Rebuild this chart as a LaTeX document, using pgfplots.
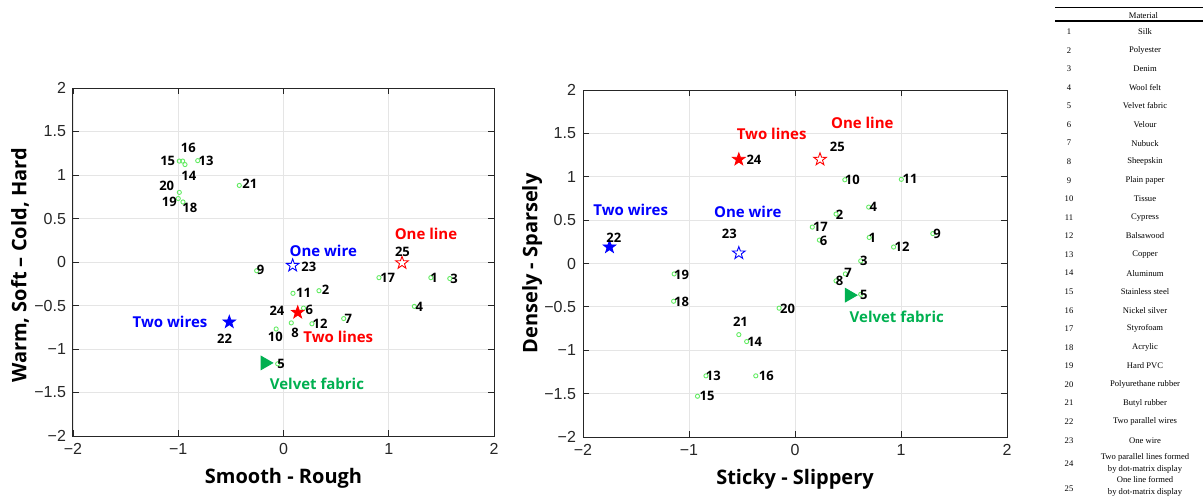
\documentclass[border=0pt]{standalone}
\usepackage{fontspec}
\setmainfont{Liberation Sans}
\newfontfamily\lab{Open Sans}
\newfontfamily\tabfont{Liberation Serif}
\usepackage{pgfplots}
\pgfplotsset{compat=1.18}
\definecolor{ptgreen}{RGB}{100,235,100}
\definecolor{txtgreen}{RGB}{0,176,80}
\definecolor{axcol}{RGB}{38,38,38}
\pgfdeclareplotmark{pstar}{%
  \pgfpathmoveto{\pgfpointpolar{90}{\pgfplotmarksize}}%
  \pgfpathlineto{\pgfpointpolar{126}{0.4\pgfplotmarksize}}%
  \pgfpathlineto{\pgfpointpolar{162}{\pgfplotmarksize}}%
  \pgfpathlineto{\pgfpointpolar{198}{0.4\pgfplotmarksize}}%
  \pgfpathlineto{\pgfpointpolar{234}{\pgfplotmarksize}}%
  \pgfpathlineto{\pgfpointpolar{270}{0.4\pgfplotmarksize}}%
  \pgfpathlineto{\pgfpointpolar{306}{\pgfplotmarksize}}%
  \pgfpathlineto{\pgfpointpolar{342}{0.4\pgfplotmarksize}}%
  \pgfpathlineto{\pgfpointpolar{18}{\pgfplotmarksize}}%
  \pgfpathlineto{\pgfpointpolar{54}{0.4\pgfplotmarksize}}%
  \pgfpathclose
  \pgfusepathqfillstroke}
\newcommand\numfont{\lab\bfseries\fontsize{6.5}{7}\selectfont}
\newcommand\annfont{\lab\bfseries\fontsize{7.5}{8}\selectfont}
\pgfplotsset{
  myax/.style={
    scale only axis, anchor=south west,
    xmin=-2, xmax=2, ymin=-2, ymax=2,
    xtick={-2,-1,0,1,2}, ytick={-2,-1.5,-1,-0.5,0,0.5,1,1.5,2},
    xticklabels={−2,−1,0,1,2},
    yticklabels={−2,−1.5,−1,−0.5,0,0.5,1,1.5,2},
    grid=major, major grid style={black!10, line width=0.4pt},
    axis line style={axcol, line width=0.5pt},
    tick style={axcol, line width=0.4pt}, major tick length=3pt,
    tick label style={font=\fontsize{8}{9}\selectfont, text=axcol},
    label style={font=\lab\bfseries\fontsize{10}{12}\selectfont, text=black},
    clip=false,
  },
  circ/.style={only marks, mark=o, mark size=1.05pt, mark options={draw=ptgreen, line width=0.45pt}},
  lbl/.style={draw=none, mark=none, nodes near coords, point meta=explicit symbolic,
    nodes near coords style={anchor=center, inner sep=0pt, font=#1}},
  sfill/.style={only marks, mark=pstar, mark size=3.3pt, mark options={draw=#1, fill=#1, line width=0.4pt}},
  sopen/.style={only marks, mark=pstar, mark size=3.3pt, mark options={draw=#1, fill=white, line width=0.45pt}},
  tri/.style={only marks, mark=triangle*, mark size=3.9pt, mark options={draw=txtgreen, fill=txtgreen, rotate=-90}},
}
\begin{document}
\begin{tikzpicture}
\path[use as bounding box] (0,0) rectangle (601.5pt,249.5pt);
% ---------------- left axis
\begin{axis}[myax, at={(36.5pt,31.5pt)}, width=210.5pt, height=174pt,
  xlabel={Smooth - Rough}, ylabel={Warm, Soft – Cold, Hard},
  ylabel style={at={(axis description cs:-0.126,0.49)}, anchor=center, rotate=0}]
\addplot[circ] coordinates {
 (1.40,-0.18) (0.337,-0.33) (1.58,-0.19) (1.243,-0.51) (-0.055,-1.17)
 (0.19,-0.53) (0.572,-0.65) (0.074,-0.70) (-0.255,-0.10) (-0.07,-0.77)
 (0.09,-0.36) (0.27,-0.71) (-0.815,1.165) (-0.936,1.12) (-0.99,1.16)
 (-0.958,1.16) (0.907,-0.18) (-0.955,0.69) (-1.0,0.73) (-0.99,0.80)
 (-0.42,0.88)};
\addplot[sfill=blue] coordinates {(-0.515,-0.69)};
\addplot[sopen=blue] coordinates {(0.087,-0.04)};
\addplot[sfill=red] coordinates {(0.135,-0.58)};
\addplot[sopen=red] coordinates {(1.126,-0.01)};
\addplot[tri] coordinates {(-0.176,-1.16)};
\addplot[lbl=\numfont] coordinates {
 (-0.905,1.31)[16] (-1.10,1.16)[15] (-0.736,1.16)[13] (-0.90,0.99)[14]
 (-1.11,0.87)[20] (-1.085,0.69)[19] (-0.89,0.62)[18] (-0.32,0.90)[21]
 (-0.217,-0.095)[9] (0.24,-0.06)[23] (1.13,0.12)[25] (0.99,-0.18)[17]
 (1.43,-0.18)[1] (1.62,-0.19)[3] (0.19,-0.36)[11] (0.40,-0.32)[2]
 (1.29,-0.51)[4] (-0.062,-0.56)[24] (0.245,-0.55)[6] (0.616,-0.65)[7]
 (0.347,-0.71)[12] (0.11,-0.82)[8] (-0.078,-0.86)[10] (-0.024,-1.17)[5]
 (-0.56,-0.88)[22]};
\addplot[lbl={\annfont\color{blue}}] coordinates {(0.378,0.13)[One wire] (-1.078,-0.693)[Two wires]};
\addplot[lbl={\annfont\color{red}}] coordinates {(1.354,0.318)[One line] (0.521,-0.858)[Two lines]};
\addplot[lbl={\annfont\color{txtgreen}}] coordinates {(0.318,-1.406)[Velvet fabric]};
\end{axis}
% ---------------- right axis
\begin{axis}[myax, at={(291.5pt,31pt)}, width=212pt, height=173.5pt,
  xlabel={Sticky - Slippery}, ylabel={Densely - Sparsely},
  ylabel style={at={(axis description cs:-0.12,0.5)}, anchor=center, rotate=0}]
\addplot[circ] coordinates {
 (0.70,0.30) (0.387,0.57) (0.62,0.03) (0.695,0.65) (0.62,-0.355)
 (0.23,0.27) (0.475,-0.12) (0.387,-0.20) (1.30,0.345) (0.47,0.965)
 (1.003,0.97) (0.93,0.19) (-0.84,-1.295) (-0.456,-0.90) (-0.92,-1.53)
 (-0.37,-1.295) (0.163,0.42) (-1.145,-0.435) (-1.14,-0.12) (-0.15,-0.515)
 (-0.53,-0.82)};
\addplot[sfill=blue] coordinates {(-1.75,0.19)};
\addplot[sopen=blue] coordinates {(-0.53,0.12)};
\addplot[sfill=red] coordinates {(-0.53,1.20)};
\addplot[sopen=red] coordinates {(0.236,1.20)};
\addplot[tri] coordinates {(0.512,-0.365)};
\addplot[lbl=\numfont] coordinates {
 (-1.71,0.30)[22] (-0.387,1.20)[24] (-0.62,0.34)[23] (-1.07,-0.13)[19]
 (-1.07,-0.44)[18] (-0.07,-0.52)[20] (-0.515,-0.67)[21] (-0.38,-0.90)[14]
 (-0.77,-1.30)[13] (-0.27,-1.30)[16] (-0.83,-1.53)[15] (0.40,1.34)[25]
 (0.54,0.965)[10] (1.085,0.97)[11] (0.74,0.65)[4] (0.42,0.565)[2]
 (0.24,0.42)[17] (0.27,0.265)[6] (0.73,0.30)[1] (1.34,0.34)[9]
 (1.01,0.19)[12] (0.65,0.03)[3] (0.50,-0.11)[7] (0.42,-0.20)[8]
 (0.65,-0.36)[5]};
\addplot[lbl={\annfont\color{blue}}] coordinates {(-1.55,0.62)[Two wires] (-0.446,0.59)[One wire]};
\addplot[lbl={\annfont\color{red}}] coordinates {(-0.22,1.50)[Two lines] (0.635,1.62)[One line]};
\addplot[lbl={\annfont\color{txtgreen}}] coordinates {(0.96,-0.61)[Velvet fabric]};
\end{axis}
% ---------------- table
\begin{scope}[every node/.style={inner sep=0pt, font=\tabfont\fontsize{4.3}{5}\selectfont}]
\draw[line width=0.5pt] (527.5pt,245.85pt) -- (601.5pt,245.85pt);
\draw[line width=0.8pt] (527.5pt,238.85pt) -- (601.5pt,238.85pt);
\node at (571.7pt,241.8pt) {Material};
\foreach \n/\m in {1/Silk,2/Polyester,3/Denim,4/Wool felt,5/Velvet fabric,6/Velour,
  7/Nubuck,8/Sheepskin,9/Plain paper,10/Tissue,11/Cypress,12/Balsawood,13/Copper,
  14/Aluminum,15/Stainless steel,16/Nickel silver,17/Styrofoam,18/Acrylic,19/Hard PVC,
  20/Polyurethane rubber,21/Butyl rubber,22/Two parallel wires,23/One wire}{
  \pgfmathsetmacro\yy{(467.3-(\n-1)*18.57)*0.5}
  \node at (534.5pt,\yy pt) {\n};
  \node at (572.5pt,\yy pt) {\m};
}
\node at (534.5pt,17.5pt) {24};
\node at (572.5pt,20.85pt) {Two parallel lines formed};
\node at (572.5pt,14.85pt) {by dot-matrix display};
\node at (534.5pt,5pt) {25};
\node at (572.5pt,9.5pt) {One line formed};
\node at (572.5pt,3.15pt) {by dot-matrix display};
\end{scope}
\end{tikzpicture}
\end{document}
